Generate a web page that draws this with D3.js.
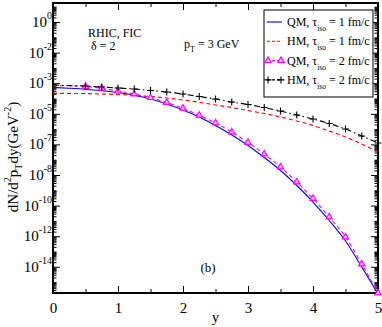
<!DOCTYPE html>
<html><head><meta charset="utf-8">
<script src="https://cdn.jsdelivr.net/npm/d3@7"></script>
<style>
body{margin:0;background:#fff;}
svg text{font-family:"Liberation Serif","Times New Roman",serif;fill:#000;}
</style></head>
<body><svg id="c" width="382" height="327"></svg>
<script>
// ---- data ----
const rapidity = [0,0.25,0.5,0.75,1,1.25,1.5,1.75,2,2.25,2.5,2.75,3,3.25,3.5,3.75,4,4.25,4.5,4.75,5];
const qmTau1 = [5.24e-5,4.71e-5,4.06e-5,3.18e-5,2.47e-5,1.64e-5,9.27e-6,4.38e-6,1.77e-6,6.18e-7,1.72e-7,4.11e-8,8.47e-9,1.39e-9,1.97e-10,2.06e-11,1.72e-12,1.06e-13,4.85e-15,9.71e-17,1.67e-18];
const hmTau1 = [2.19e-5,2.15e-5,2.09e-5,1.97e-5,1.82e-5,1.62e-5,1.35e-5,1.08e-5,7.98e-6,5.65e-6,3.76e-6,2.58e-6,1.64e-6,1.05e-6,6.18e-7,3.38e-7,1.72e-7,7.52e-8,3.05e-8,1.06e-8,3.18e-9];
const qmTau2 = [7.08e-5,6.76e-5,6.08e-5,4.65e-5,3.09e-5,1.97e-5,1.13e-5,5.48e-6,2.29e-6,7.98e-7,2.51e-7,6.46e-8,1.33e-8,2.36e-9,3.33e-10,3.48e-11,2.91e-12,1.80e-13,8.87e-15,1.52e-16,1.94e-18];
const hmTau2 = [7.62e-5,7.08e-5,6.56e-5,5.65e-5,4.85e-5,4.18e-5,3.33e-5,2.66e-5,1.97e-5,1.35e-5,9.27e-6,5.90e-6,4.06e-6,2.58e-6,1.52e-6,8.35e-7,4.57e-7,2.32e-7,1.02e-7,3.54e-8,1.24e-8];
const markerStart = 0.5;
const xTicks = [0,1,2,3,4,5];
const xMinorTicks = [0.5,1.5,2.5,3.5,4.5];
const yTicks = [1,1e-2,1e-4,1e-6,1e-8,1e-10,1e-12,1e-14,1e-16];
const yTickExp = ["0","-2","-3","-5","-7","-8","-10","-12","-14"];
const yDomain = [1.94e-18, 17.5];
const xDomain = [0,5];

const legendItems = [
  {name:"QM", tau:"1", color:"#0000ff", dash:null, marker:null},
  {name:"HM", tau:"1", color:"#ff0000", dash:"4,3", marker:null},
  {name:"QM", tau:"2", color:"#ff00ff", dash:"4,3", marker:"tri"},
  {name:"HM", tau:"2", color:"#000000", dash:"6,3,1.5,3", marker:"plus"}
];
const seriesData = [qmTau1, hmTau1, qmTau2, hmTau2];

// ---- layout ----
const L=53, R=378, T=3, B=293;
const svg = d3.select("#c");
const x = d3.scaleLinear().domain(xDomain).range([L,R]);
const y = d3.scaleLog().domain(yDomain).range([B,T]);

svg.append("defs").append("clipPath").attr("id","clip")
  .append("rect").attr("x",L).attr("y",T).attr("width",R-L).attr("height",B-T);

// minor y ticks (log)
const yMinor = [];
for(let k=-18;k<=1;k++){ for(let m=1;m<=9;m++){ const v=m*Math.pow(10,k); if(v>=yDomain[0]&&v<=yDomain[1]&&!yTicks.some(t=>Math.abs(Math.log10(t)-Math.log10(v))<1e-6)) yMinor.push(v);} }

// axes
const axB = d3.axisBottom(x).tickValues(xTicks).tickSize(-7).tickPadding(9).tickFormat(d3.format("d"));
const gB = svg.append("g").attr("transform",`translate(0,${B})`).call(axB);
gB.selectAll("text").attr("font-size",15);
svg.append("g").attr("transform",`translate(0,${B})`).call(d3.axisBottom(x).tickValues(xMinorTicks).tickSize(-4).tickFormat(""));
svg.append("g").attr("transform",`translate(0,${T})`).call(d3.axisTop(x).tickValues(xTicks).tickSize(-7).tickFormat(""));
svg.append("g").attr("transform",`translate(0,${T})`).call(d3.axisTop(x).tickValues(xMinorTicks).tickSize(-4).tickFormat(""));

svg.append("g").attr("transform",`translate(${L},0)`).call(d3.axisLeft(y).tickValues(yTicks).tickSize(-7).tickFormat(""));
svg.append("g").attr("transform",`translate(${L},0)`).call(d3.axisLeft(y).tickValues(yMinor).tickSize(-3.5).tickFormat(""));
svg.append("g").attr("transform",`translate(${R},0)`).call(d3.axisRight(y).tickValues(yTicks).tickSize(-7).tickFormat(""));
svg.append("g").attr("transform",`translate(${R},0)`).call(d3.axisRight(y).tickValues(yMinor).tickSize(-3.5).tickFormat(""));
svg.selectAll(".domain").remove();
svg.selectAll(".tick line").attr("stroke","#000").attr("stroke-width",1);

// y tick labels
yTicks.forEach((t,i)=>{
  const tx = svg.append("text").attr("x",L-1).attr("y",y(t)+5).attr("text-anchor","end").attr("font-size",15);
  tx.append("tspan").text("10");
  tx.append("tspan").attr("font-size",10).attr("dy",-8).text(yTickExp[i]);
});

// frame
svg.append("rect").attr("x",L).attr("y",T).attr("width",R-L).attr("height",B-T)
  .attr("fill","none").attr("stroke","#000").attr("stroke-width",2);

// lines
const line = d3.line().x((d,i)=>x(rapidity[i])).y(d=>y(d)).curve(d3.curveMonotoneX);
const gData = svg.append("g").attr("clip-path","url(#clip)");
legendItems.forEach((it,k)=>{
  gData.append("path").datum(seriesData[k]).attr("d",line).attr("fill","none")
    .attr("stroke",it.color).attr("stroke-width",1.1).attr("stroke-dasharray",it.dash);
});
function drawMarker(g,type,cx,cy,color){
  if(type==="tri"){
    g.append("path").attr("d",d3.symbol().type(d3.symbolTriangle).size(18)()).attr("transform",`translate(${cx},${cy})`)
      .attr("fill","#ffb0ff").attr("stroke",color).attr("stroke-width",1.1);
  } else if(type==="plus"){
    g.append("path").attr("d",`M${cx-3.5},${cy}H${cx+3.5}M${cx},${cy-3.5}V${cy+3.5}`).attr("stroke",color).attr("stroke-width",1.1);
  }
}
const gMark = svg.append("g");
legendItems.forEach((it,k)=>{
  if(!it.marker) return;
  seriesData[k].forEach((v,i)=>{ if(rapidity[i]>=markerStart) drawMarker(gMark,it.marker,x(rapidity[i]),y(v),it.color); });
});

// legend
const lg = svg.append("g");
lg.append("rect").attr("x",264).attr("y",10).attr("width",109).attr("height",87).attr("fill","#fff").attr("stroke","#000").attr("stroke-width",1);
legendItems.forEach((it,k)=>{
  const ly = 22 + k*19.3;
  lg.append("line").attr("x1",267).attr("x2",282).attr("y1",ly).attr("y2",ly).attr("stroke",it.color).attr("stroke-width",1.1).attr("stroke-dasharray",it.dash?"3,2":null);
  if(it.marker){ drawMarker(lg,it.marker,268,ly,it.color); drawMarker(lg,it.marker,281,ly,it.color); }
  const t = lg.append("text").attr("x",287).attr("y",ly+4).attr("font-size",12);
  t.append("tspan").text(it.name+", \u03c4");
  t.append("tspan").attr("font-size",7.5).attr("dy",5).text("iso");
  t.append("tspan").attr("dy",-5).text(" = "+it.tau+" fm/c");
});

// annotations
svg.append("text").attr("x",88).attr("y",37).attr("font-size",12).text("RHIC, FIC");
svg.append("text").attr("x",91).attr("y",50).attr("font-size",12).text("\u03b4 = 2");
const pt = svg.append("text").attr("x",184).attr("y",48).attr("font-size",12);
pt.append("tspan").text("p");
pt.append("tspan").attr("font-size",8).attr("dy",4).text("T");
pt.append("tspan").attr("dy",-4).text(" = 3 GeV");
svg.append("text").attr("x",208).attr("y",272).attr("font-size",13).attr("text-anchor","middle").text("(b)");
svg.append("text").attr("x",x(2.5)).attr("y",322).attr("font-size",15).attr("text-anchor","middle").text("y");

const yl = svg.append("text").attr("transform",`translate(18,157) rotate(-90)`).attr("text-anchor","middle").attr("font-size",15);
yl.append("tspan").text("dN/d");
yl.append("tspan").attr("font-size",10).attr("dy",-7).text("2");
yl.append("tspan").attr("dy",7).text("p");
yl.append("tspan").attr("font-size",10).attr("dy",4).text("T");
yl.append("tspan").attr("dy",-4).text("dy(GeV");
yl.append("tspan").attr("font-size",10).attr("dy",-7).text("-2");
yl.append("tspan").attr("dy",7).text(")");
</script></body></html>
